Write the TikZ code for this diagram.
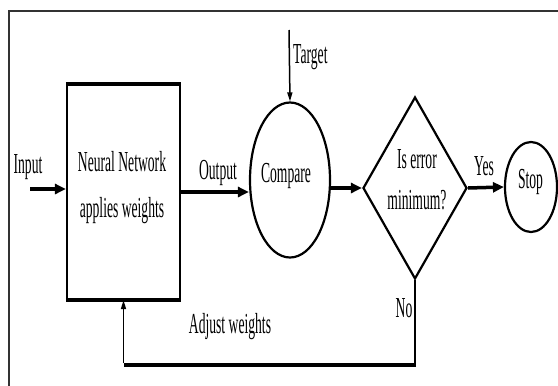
\documentclass[tikz,border=0pt]{standalone}
\usepackage{fontspec}
\setmainfont{Liberation Serif}[FakeStretch=0.47]
\usetikzlibrary{shapes.geometric,arrows.meta}
\begin{document}
\begin{tikzpicture}[x=1pt,y=-1pt,
  lbl/.style={font=\fontsize{29}{46}\selectfont, inner sep=0, align=center},
  shp/.style={draw, line width=2.2pt, inner sep=0},
  flow/.style={line width=3.5pt, -{Triangle[length=11pt,width=10pt]}},
  thinarrow/.style={line width=1.5pt, -{Triangle[length=9pt,width=5pt]}},
  frame/.style={line width=2pt, black!80}]
\useasboundingbox (0,0) rectangle (558,386);
\fill[white] (0,0) rectangle (558,386);
% frame
\coordinate (f1) at (9,386);
\coordinate (f2) at (9,11);
\coordinate (f3) at (558,11);
\draw[frame] (f1) -- (f2) -- (f3);
% shapes
\node[shp, rectangle, minimum width=113pt, minimum height=214pt] (nn) at (123.5,192) {};
\draw[line width=3.5pt] (nn.north west) -- (nn.north east);
\draw[line width=3.5pt] (nn.south west) -- (nn.south east);
\node[shp, ellipse, minimum width=80pt, minimum height=155pt] (cmp) at (290,180) {};
\node[shp, diamond, minimum width=104pt, minimum height=182pt] (dmd) at (415,188) {};
\node[shp, ellipse, minimum width=52pt, minimum height=90pt] (stop) at (531,187) {};
% texts
\node[lbl] (nntxt) at (122,188) {Neural Network\\applies weights};
\node[lbl, font=\fontsize{29}{41}\selectfont] (qtxt) at (417,179.5) {Is error\\minimum?};
\node[lbl, anchor=base] (cmptxt) at (286,182) {Compare};
\node[lbl, anchor=base] (stoptxt) at (530.5,188) {Stop};
\node[lbl, anchor=base] (inlbl) at (28,173) {Input};
\node[lbl, anchor=base] (outlbl) at (218,179) {Output};
\node[lbl, anchor=base west] (tgtlbl) at (293,63) {Target};
\node[lbl, anchor=base] (yeslbl) at (484,175) {Yes};
\node[lbl, anchor=base] (nolbl) at (404,317) {No};
\node[lbl, anchor=base] (adjlbl) at (230,333) {Adjust weights};
% connectors
\coordinate (inS) at (30,189);
\coordinate (tgt) at (289,30);
\coordinate (fbR) at (415,365);
\coordinate (fbL) at (123.5,365);
\draw[flow] (inS) -- (inS -| nn.west);
\draw[flow] (nn.east) -- (nn.east -| cmp.west);
\draw[flow] (dmd.west -| cmp.east) -- (dmd.west);
\draw[flow] (dmd.east) -- (stop.west);
\draw[thinarrow] (tgt) -- (cmp.north);
\draw[line width=2pt] (dmd.south) -- (fbR);
\draw[line width=3.5pt] ([xshift=1pt]fbR) -- (fbL);
\draw[thinarrow] ([yshift=1.75pt]fbL) -- (nn.south);
\end{tikzpicture}
\end{document}
